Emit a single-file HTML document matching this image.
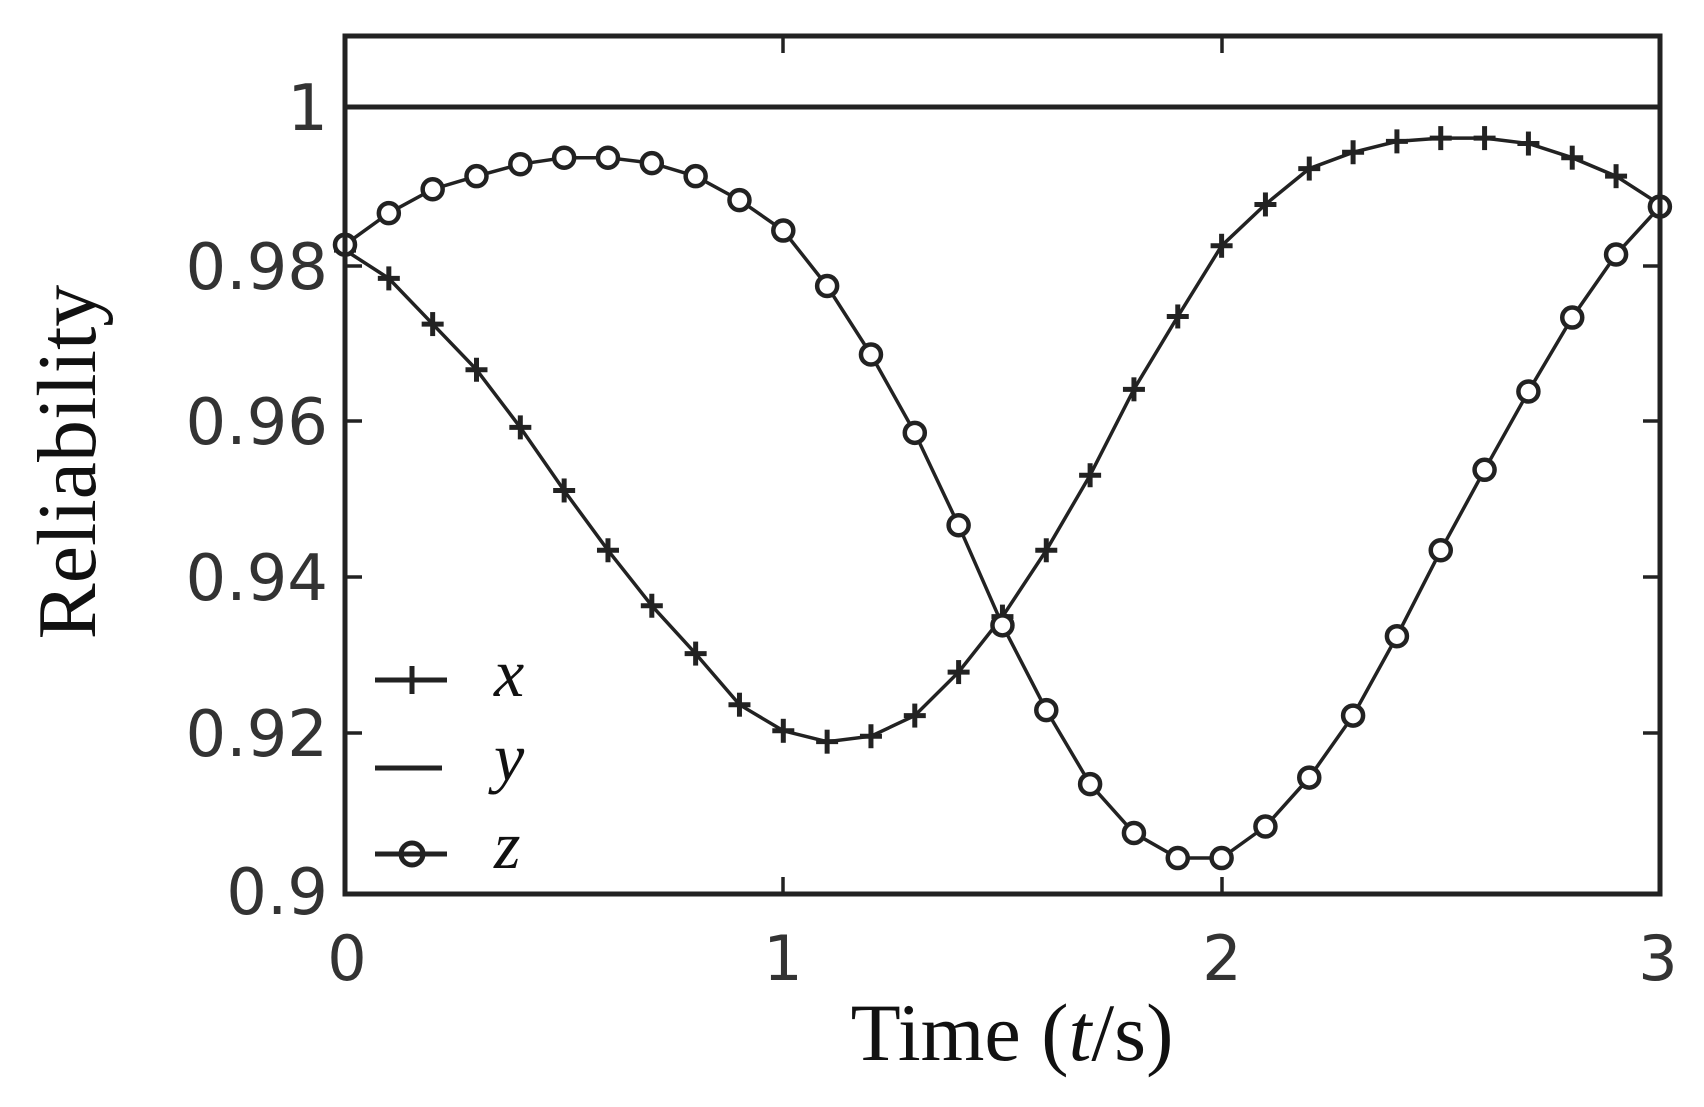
<!DOCTYPE html>
<html><head><meta charset="utf-8"><style>
html,body{margin:0;padding:0;background:#fff;}
svg{display:block;}
</style></head><body>
<svg id="s" width="1704" height="1107" xmlns="http://www.w3.org/2000/svg">
<rect x="0" y="0" width="1704" height="1107" fill="#fff"/>
<g id="plot" stroke="#222" fill="none"></g>
<rect x="345" y="36" width="1315" height="858" fill="none" stroke="#222" stroke-width="5"/>
<g stroke="#222" stroke-width="3.5">
<line x1="783" y1="894" x2="783" y2="877"/><line x1="1222" y1="894" x2="1222" y2="877"/>
<line x1="783" y1="36" x2="783" y2="53"/><line x1="1222" y1="36" x2="1222" y2="53"/>
<line x1="345" y1="266" x2="362" y2="266"/><line x1="345" y1="421" x2="362" y2="421"/><line x1="345" y1="577" x2="362" y2="577"/><line x1="345" y1="733" x2="362" y2="733"/>
<line x1="1660" y1="266" x2="1643" y2="266"/><line x1="1660" y1="421" x2="1643" y2="421"/><line x1="1660" y1="577" x2="1643" y2="577"/><line x1="1660" y1="733" x2="1643" y2="733"/>
</g>
<line x1="345" y1="107" x2="1660" y2="107" stroke="#222" stroke-width="5"/>
<g font-family="'DejaVu Sans','Liberation Sans',sans-serif" font-size="64" fill="#333" text-anchor="end">
<text x="328" y="130">1</text>
<text x="328" y="289">0.98</text>
<text x="328" y="444">0.96</text>
<text x="328" y="600">0.94</text>
<text x="328" y="756">0.92</text>
<text x="328" y="914">0.9</text>
</g>
<g font-family="'DejaVu Sans','Liberation Sans',sans-serif" font-size="62" fill="#333" text-anchor="middle">
<text x="347" y="980">0</text>
<text x="783" y="980">1</text>
<text x="1222" y="980">2</text>
<text x="1658" y="980">3</text>
</g>
<text x="1012" y="1060" font-family="'Liberation Serif',serif" font-size="82" text-anchor="middle" fill="#111">Time (<tspan font-style="italic">t</tspan>/s)</text>
<text transform="translate(95,462) rotate(-90)" font-family="'Liberation Serif',serif" font-size="84" text-anchor="middle" fill="#111">Reliability</text>
<g stroke="#222" stroke-width="5">
<line x1="375" y1="680" x2="447" y2="680"/><line x1="412" y1="666" x2="412" y2="694"/>
<line x1="375" y1="768" x2="442" y2="768"/>
<line x1="375" y1="854" x2="447" y2="854"/>
</g>
<circle cx="412" cy="854" r="11" fill="none" stroke="#222" stroke-width="5"/>
<g font-family="'Liberation Serif',serif" font-size="68" font-style="italic" fill="#111">
<text x="494" y="696">x</text><text x="494" y="780">y</text><text x="494" y="868">z</text>
</g>
</svg>
<script>
var z=[225,196,174,162,151,145,145,150,162,184,212,263,326,398,483,575,653,721,766,789,789,760,715,658,585,506,432,360,292,234,190];
var x=[230,256,298,340,393,451,506,557,601,648,672,682,677,658,618,567,506,437,358,291,226,188,155,140,130,127,127,132,145,162,188];
var S=1.0875;
var g=document.getElementById('plot'),ns="http://www.w3.org/2000/svg";
function X(i){return 345+i*0.1*438.3;}
function mk(tag,a){var e=document.createElementNS(ns,tag);for(var k in a)e.setAttribute(k,a[k]);g.appendChild(e);return e;}
function path(arr){var d="";for(var i=0;i<arr.length;i++){d+=(i?"L":"M")+X(i).toFixed(1)+","+(arr[i]*S).toFixed(1);}mk('path',{d:d,'stroke-width':3.5});}
path(z);path(x);
for(var i=0;i<31;i++){var cx=X(i),cy=x[i]*S;
mk('line',{x1:cx-11,y1:cy,x2:cx+11,y2:cy,'stroke-width':5});
mk('line',{x1:cx,y1:cy-12,x2:cx,y2:cy+12,'stroke-width':5});}
for(var i=0;i<31;i++){mk('circle',{cx:X(i),cy:z[i]*S,r:10,'stroke-width':4.5,fill:'#fff'});}
</script>
</body></html>
